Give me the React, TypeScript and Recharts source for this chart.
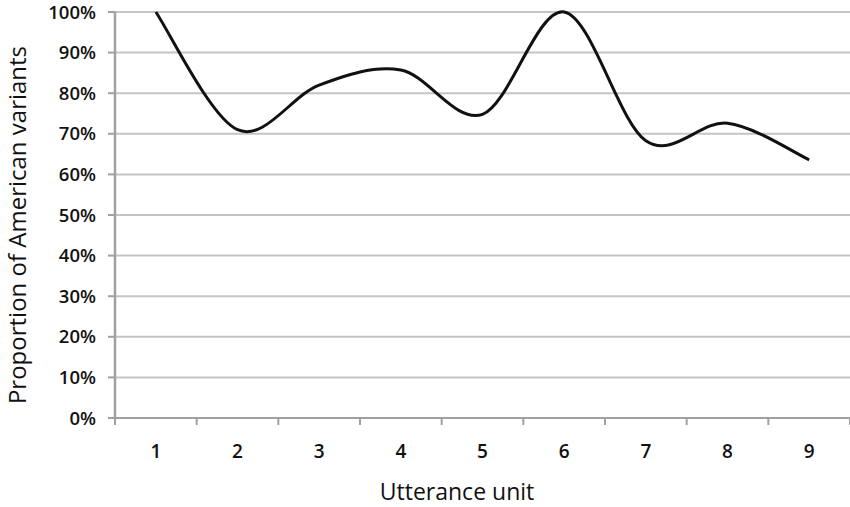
import { LineChart, Line, XAxis, YAxis, CartesianGrid, Label } from "recharts";

const units = [1, 2, 3, 4, 5, 6, 7, 8, 9];
const american = [100, 71, 82, 85.7, 74.8, 100, 68.3, 72.6, 63.6];
const yTicks = [0, 10, 20, 30, 40, 50, 60, 70, 80, 90, 100];
// tick positions along x: band edges (marks) and unit centres (labels)
const xTicks = [0.5, 1, 1.5, 2, 2.5, 3, 3.5, 4, 4.5, 5, 5.5, 6, 6.5, 7, 7.5, 8, 8.5, 9, 9.5];

const data = units.map((u, i) => ({ unit: u, value: american[i] }));

// Catmull-Rom style smoothing, close to the spreadsheet "smoothed line"
function smoothCurve(context: any) {
  let pts: [number, number][] = [];
  return {
    areaStart() {},
    areaEnd() {},
    lineStart() {
      pts = [];
    },
    point(x: number, y: number) {
      pts.push([+x, +y]);
    },
    lineEnd() {
      if (!pts.length) return;
      context.moveTo(pts[0][0], pts[0][1]);
      for (let i = 0; i < pts.length - 1; i++) {
        const p0 = pts[Math.max(0, i - 1)];
        const p1 = pts[i];
        const p2 = pts[i + 1];
        const p3 = pts[Math.min(pts.length - 1, i + 2)];
        context.bezierCurveTo(
          p1[0] + (p2[0] - p0[0]) / 6,
          p1[1] + (p2[1] - p0[1]) / 6,
          p2[0] - (p3[0] - p1[0]) / 6,
          p2[1] - (p3[1] - p1[1]) / 6,
          p2[0],
          p2[1]
        );
      }
    },
  };
}

const font = "'Open Sans', 'DejaVu Sans', sans-serif";
const axisGrey = "#a0a0a0";

const XTick = ({ x, y, payload }: any) => {
  const v = payload.value;
  if (Number.isInteger(v)) {
    return (
      <text x={x} y={y + 40} textAnchor="middle" fill="#111" fontSize={19} fontFamily={font} fontWeight={600}>
        {v}
      </text>
    );
  }
  return <line x1={x} x2={x} y1={y} y2={y + 7} stroke={axisGrey} strokeWidth={2} />;
};

export default function App() {
  return (
    <div style={{ position: "absolute", left: 0, top: 0, background: "#fff" }}>
      <LineChart width={850} height={507} data={data} margin={{ top: 12, right: 0, bottom: 49, left: 0 }}>
        <CartesianGrid horizontal vertical={false} stroke="#c4c4c4" strokeWidth={2} />
        <XAxis
          dataKey="unit"
          type="number"
          domain={[0.5, 9.5]}
          ticks={xTicks}
          interval={0}
          height={40}
          tickSize={0}
          tickMargin={0}
          tickLine={false}
          axisLine={{ stroke: axisGrey, strokeWidth: 2 }}
          tick={<XTick />}
        >
          <Label
            content={() => (
              <text x={457} y={500} textAnchor="middle" fill="#111" fontSize={23} fontFamily={font}>
                Utterance unit
              </text>
            )}
          />
        </XAxis>
        <YAxis
          domain={[0, 100]}
          ticks={yTicks}
          width={115}
          interval={0}
          tickFormatter={(v: number) => `${v}%`}
          tickSize={7}
          tickMargin={12}
          axisLine={{ stroke: axisGrey, strokeWidth: 2.5 }}
          tickLine={{ stroke: axisGrey, strokeWidth: 2 }}
          tick={{ fill: "#111", fontSize: 18.5, fontFamily: font, fontWeight: 600 }}
        >
          <Label
            content={() => (
              <text x={26} y={225} transform="rotate(-90 26 225)" textAnchor="middle" fill="#111" fontSize={24} fontFamily={font}>
                Proportion of American variants
              </text>
            )}
          />
        </YAxis>
        <Line type={smoothCurve as any} dataKey="value" stroke="#111" strokeWidth={3} dot={false} isAnimationActive={false} />
      </LineChart>
    </div>
  );
}
